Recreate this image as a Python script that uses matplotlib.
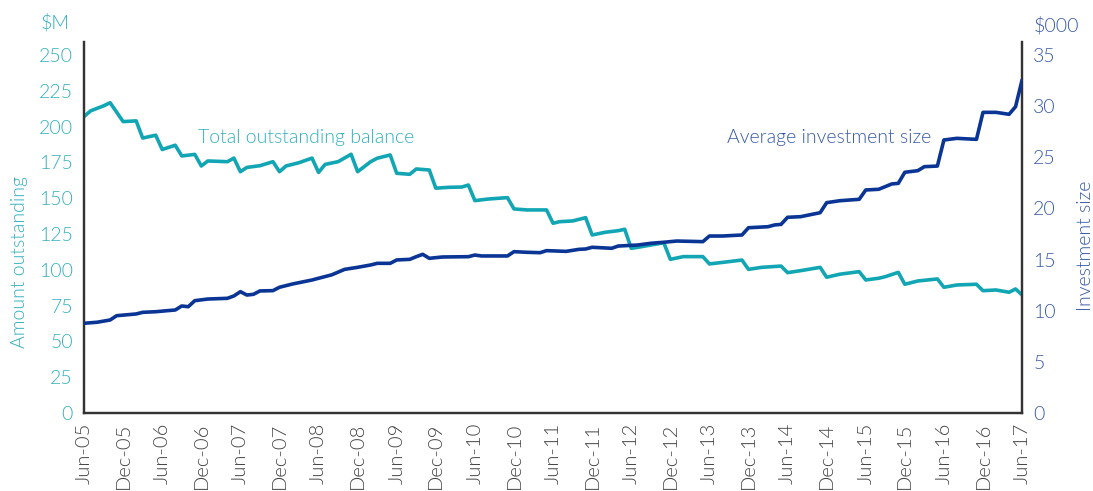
import matplotlib
matplotlib.use("Agg")
import matplotlib.pyplot as plt
from matplotlib import font_manager

# ---------------- data ----------------
# months since Jun-05
bal_months = [0, 1, 3, 4, 6, 8, 9, 11, 12, 14, 15, 17, 18, 19, 22, 23, 24, 25, 27, 29,
              30, 31, 33, 35, 36, 37, 39, 41, 42, 44, 45, 47, 48, 50, 51, 53, 54, 56, 58, 59,
              60, 62, 65, 66, 68, 71, 72, 73, 75, 77, 78, 80, 82, 83, 84, 85, 87, 89, 90, 92,
              95, 96, 99, 101, 102, 104, 107, 108, 110, 113, 114, 116, 119, 120, 122, 123, 125,
              126, 128, 131, 132, 134, 137, 138, 140, 142, 143, 144]
bal_values = [207, 211, 214.5, 216.7, 203.5, 204, 192, 194, 184, 187, 179.5, 180.6, 172.5, 176,
              175.5, 178, 168.5, 171.5, 172.7, 175.5, 168.5, 172.5, 174.8, 178, 168, 173.6, 175.5,
              180.7, 168.5, 175.5, 177.9, 180.2, 167.4, 166.7, 170.4, 169.7, 157, 157.6, 157.8,
              159.2, 148.3, 149.4, 150.4, 142.5, 141.8, 141.8, 132.5, 133.6, 134.1, 136.4, 124.3,
              126.2, 127.3, 128.3, 115, 115.7, 117.3, 118.9, 107.3, 109.2, 109.2, 104.1, 105.7,
              106.8, 100.3, 101.7, 102.6, 98, 99.4, 101.7, 94.8, 96.9, 98.7, 92.9, 94.1, 95.2,
              98.2, 89.9, 92.2, 93.6, 87.8, 89.4, 89.9, 85.4, 85.9, 84.3, 86.6, 82.4]

inv_months = [0, 2, 4, 5, 8, 9, 11, 14, 15, 16, 17, 19, 22, 23, 24, 25, 26, 27, 29, 30,
              32, 35, 36, 38, 40, 42, 44, 45, 47, 48, 50, 51, 52, 53, 55, 59, 60, 61, 65, 66,
              68, 70, 71, 74, 76, 77, 78, 81, 82, 85, 87, 89, 91, 95, 96, 98, 101, 102, 105, 106,
              107, 108, 110, 113, 114, 116, 119, 120, 122, 124, 125, 126, 128, 129, 131, 132,
              134, 137, 138, 140, 142, 143, 144]
inv_values = [8.77, 8.87, 9.09, 9.51, 9.68, 9.84, 9.9, 10.07, 10.46, 10.39, 10.98, 11.14, 11.21,
              11.44, 11.86, 11.53, 11.6, 11.93, 11.96, 12.29, 12.61, 13.0, 13.17, 13.5, 14.04,
              14.24, 14.47, 14.63, 14.63, 14.96, 15.02, 15.28, 15.51, 15.12, 15.25, 15.28, 15.44,
              15.35, 15.35, 15.77, 15.71, 15.67, 15.87, 15.8, 16.0, 16.03, 16.2, 16.1, 16.32,
              16.42, 16.59, 16.69, 16.81, 16.75, 17.3, 17.3, 17.4, 18.11, 18.21, 18.38, 18.44,
              19.13, 19.19, 19.58, 20.56, 20.75, 20.89, 21.8, 21.87, 22.39, 22.45, 23.53, 23.69,
              24.08, 24.14, 26.69, 26.85, 26.75, 29.39, 29.39, 29.2, 29.94, 32.55]

x_tick_labels = ["Jun-05", "Dec-05", "Jun-06", "Dec-06", "Jun-07", "Dec-07", "Jun-08", "Dec-08",
                 "Jun-09", "Dec-09", "Jun-10", "Dec-10", "Jun-11", "Dec-11", "Jun-12", "Dec-12",
                 "Jun-13", "Dec-13", "Jun-14", "Dec-14", "Jun-15", "Dec-15", "Jun-16", "Dec-16",
                 "Jun-17"]
left_ticks = [0, 25, 50, 75, 100, 125, 150, 175, 200, 225, 250]
right_ticks = [0, 5, 10, 15, 20, 25, 30, 35]

# ---------------- style ----------------
fams = [f.name for f in font_manager.fontManager.ttflist]
FONT = "Lato" if "Lato" in fams else "DejaVu Sans"
plt.rcParams["font.family"] = [FONT, "DejaVu Sans"]
W = 300

TEAL = "#12A6B4"
TEAL_TXT = "#2FB0BE"
NAVY = "#0A3594"
NAVY_TXT = "#3558A8"
SPINE = "#333333"
XLAB = "#444444"

fig = plt.figure(figsize=(10.93, 4.91), dpi=100)
ax = fig.add_axes([0.0769, 0.1589, 0.9351 - 0.0769, 0.9145 - 0.1589])
ax2 = ax.twinx()

ax.plot(bal_months, bal_values, color=TEAL, lw=2.6, solid_joinstyle="round",
        solid_capstyle="round", zorder=3)
ax2.plot(inv_months, inv_values, color=NAVY, lw=2.6, solid_joinstyle="round",
         solid_capstyle="round", zorder=3)

ax.set_xlim(0, 144)
ax.set_ylim(0, 259.1)
ax2.set_ylim(0, 36.27)

ax.set_xticks(range(0, 145, 6))
ax.set_xticklabels(x_tick_labels, rotation=90, fontsize=14.5, color=XLAB, fontweight=W)
ax.set_yticks(left_ticks)
ax.set_yticklabels([str(t) for t in left_ticks], fontsize=14, color=TEAL_TXT, fontweight=W)
ax2.set_yticks(right_ticks)
ax2.set_yticklabels([str(t) for t in right_ticks], fontsize=14, color=NAVY_TXT, fontweight=W)

ax.tick_params(axis="x", length=0, pad=7)
ax.tick_params(axis="y", length=0, pad=8)
ax2.tick_params(axis="y", length=0, pad=8)

for a in (ax, ax2):
    a.spines["top"].set_visible(False)
    for s in ("left", "right", "bottom"):
        a.spines[s].set_color(SPINE)
        a.spines[s].set_linewidth(1.6)
ax.patch.set_visible(False)

ax.set_ylabel("Amount outstanding", fontsize=14, color=TEAL_TXT, fontweight=W)
ax.yaxis.set_label_coords(-0.0597, 0.407)
ax2.set_ylabel("Investment size", fontsize=14, color=NAVY_TXT, fontweight=W, rotation=90)
ax2.yaxis.set_label_coords(1.0586, 0.45)

fig.text(55 / 1093, 1 - 22 / 491, "$M", fontsize=14, color=TEAL_TXT, ha="center", va="center",
         fontweight=W)
fig.text(1056 / 1093, 1 - 25 / 491, "$000", fontsize=14, color=NAVY_TXT, ha="center", va="center",
         fontweight=W)

fig.text(306 / 1093, 1 - 138 / 491, "Total outstanding balance", fontsize=14, color=TEAL_TXT,
         ha="center", va="center", fontweight=W)
fig.text(829 / 1093, 1 - 138 / 491, "Average investment size", fontsize=14, color=NAVY_TXT,
         ha="center", va="center", fontweight=W)

fig.savefig("out.png", dpi=100)
